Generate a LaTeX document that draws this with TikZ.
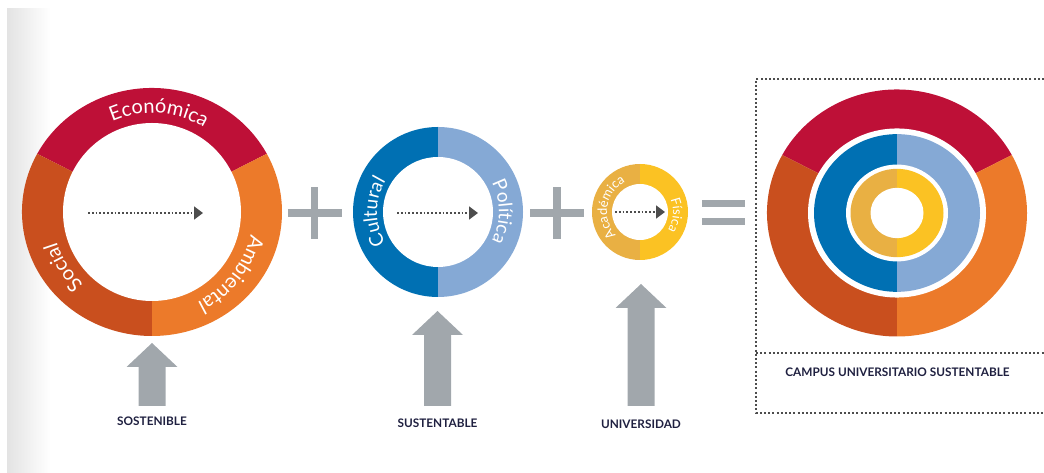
\documentclass[tikz,border=0pt]{standalone}
\usepackage{fontspec}
\setmainfont{Lato}
\usetikzlibrary{arrows.meta,decorations.text}
\definecolor{econ}{HTML}{BE1037}
\definecolor{soc}{HTML}{C94F1E}
\definecolor{amb}{HTML}{EC7A2A}
\definecolor{cult}{HTML}{0070B3}
\definecolor{poli}{HTML}{85A9D5}
\definecolor{acad}{HTML}{E9B043}
\definecolor{fisi}{HTML}{FBC223}
\definecolor{bloque}{HTML}{A1A7AC}
\definecolor{punto}{HTML}{4D4D4D}
\definecolor{rotulo}{HTML}{1F2040}
\newcommand{\anillo}[1]{\fontsize{#1}{#1}\selectfont}
\tikzset{
  dotarrow/.style={punto,line width=1.8pt,dash pattern=on 1.8pt off 2pt,
    -{Triangle[length=9pt,width=13pt]}},
  caja/.style={punto,line width=2pt,dash pattern=on 2pt off 2.2pt},
  rotulo/.style={text=rotulo,font=\bfseries\fontsize{11.8}{13}\selectfont},
  curva/.style={decorate,decoration={text along path,text color=white,text align=center}}
}

\begin{document}
\begin{tikzpicture}[x=1pt,y=1pt]
            \useasboundingbox (0,0) rectangle (1044,473);
            \shade[left color=black!11,right color=white] (7,0) rectangle (50,464);

            \coordinate (c1) at (152,261);
            \fill[econ] (c1) -- ++(28:130 and 124) arc[start angle=28,end angle=152,x radius=130,y radius=124] -- cycle;
            \fill[soc] (c1) -- ++(152:130 and 124) arc[start angle=152,end angle=270,x radius=130,y radius=124] -- cycle;
            \fill[amb] (c1) -- ++(270:130 and 124) arc[start angle=270,end angle=388,x radius=130,y radius=124] -- cycle;
            \fill[white] (c1) circle (89);
            \path[curva,decoration={text={|\anillo{20}|Económica}}] (c1) ++(146:99) arc[start angle=146,end angle=26,radius=99];
            \path[curva,decoration={text={|\anillo{20}|Social}}] (c1) ++(250:100) arc[start angle=250,end angle=174,radius=100];
            \path[curva,decoration={text={|\anillo{20}|Ambiental}}] (c1) ++(10:101) arc[start angle=10,end angle=-86,radius=101];

            \coordinate (c2) at (438,261);
            \fill[cult] (c2) -- ++(90:85) arc[start angle=90,end angle=270,radius=85] -- cycle;
            \fill[poli] (c2) -- ++(-90:85) arc[start angle=-90,end angle=90,radius=85] -- cycle;
            \fill[white] (c2) circle (55);
            \path[curva,decoration={text={|\anillo{19}|Cultural}}] (c2) ++(240:61) arc[start angle=240,end angle=120,radius=61];
            \path[curva,decoration={text={|\anillo{19}|Política}}] (c2) ++(60:61) arc[start angle=60,end angle=-60,radius=61];

            \coordinate (c3) at (640,261);
            \fill[acad] (c3) -- ++(90:48) arc[start angle=90,end angle=270,radius=48] -- cycle;
            \fill[fisi] (c3) -- ++(-90:48) arc[start angle=-90,end angle=90,radius=48] -- cycle;
            \fill[white] (c3) circle (28);
            \path[curva,decoration={text={|\anillo{13}|Académica}}] (c3) ++(260:33) arc[start angle=260,end angle=80,radius=33];
            \path[curva,decoration={text={|\anillo{13}|Física}}] (c3) ++(70:33) arc[start angle=70,end angle=-80,radius=33];

            \coordinate (a1) at (88,260);
            \coordinate (b1) at (203,260);
            \coordinate (a2) at (397,260);
            \coordinate (b2) at (478,260);
            \coordinate (a3) at (615,261);
            \coordinate (b3) at (665,261);
            \draw[dotarrow] (a1) -- (b1);
            \draw[dotarrow] (a2) -- (b2);
            \draw[dotarrow] (a3) -- (b3);

            \foreach \x in {314.5,557}{
                \fill[bloque] (\x-27,256.25) rectangle (\x+27,263.75);
                \fill[bloque] (\x-3.75,234) rectangle (\x+3.75,286);
            }
            \fill[bloque] (702,266) rectangle (745,272.5);
            \fill[bloque] (702,248) rectangle (745,254.5);

            \foreach \x/\t in {152/130,437.5/162,641/189}{
                \fill[bloque] (\x-13.5,67) -- (\x-13.5,\t-24) -- (\x-25.5,\t-24) -- (\x,\t)
                    -- (\x+25.5,\t-24) -- (\x+13.5,\t-24) -- (\x+13.5,67) -- cycle;
            }
            \node[rotulo] (sost) at (152,52) {SOSTENIBLE};
            \node[rotulo] (sust) at (437.5,50) {SUSTENTABLE};
            \node[rotulo] (univ) at (641,49) {UNIVERSIDAD};

            \begin{scope}[shift={(897,260)},yscale=0.95]
                \coordinate (c4) at (0,0);
                \fill[econ] (c4) -- ++(28:130) arc[start angle=28,end angle=152,radius=130] -- cycle;
                \fill[soc] (c4) -- ++(152:130) arc[start angle=152,end angle=270,radius=130] -- cycle;
                \fill[amb] (c4) -- ++(270:130) arc[start angle=270,end angle=388,radius=130] -- cycle;
                \fill[white] (c4) circle (89);
                \fill[cult] (c4) -- ++(90:83) arc[start angle=90,end angle=270,radius=83] -- cycle;
                \fill[poli] (c4) -- ++(-90:83) arc[start angle=-90,end angle=90,radius=83] -- cycle;
                \fill[white] (c4) circle (51);
                \fill[acad] (c4) -- ++(90:46.5) arc[start angle=90,end angle=270,radius=46.5] -- cycle;
                \fill[fisi] (c4) -- ++(-90:46.5) arc[start angle=-90,end angle=90,radius=46.5] -- cycle;
                \fill[white] (c4) circle (26.5);
            \end{scope}

            \draw[caja] (1044,394) -- (756,394) -- (756,60) -- (1044,60);
            \draw[caja] (756,119.5) -- (1044,119.5);
            \node[rotulo] (campus) at (897.5,101) {CAMPUS UNIVERSITARIO SUSTENTABLE};
        \end{tikzpicture}
\end{document}
